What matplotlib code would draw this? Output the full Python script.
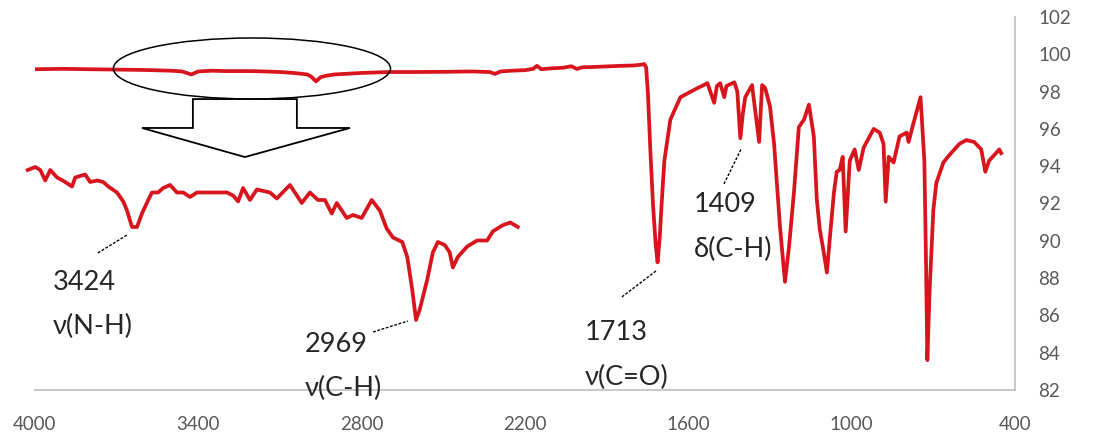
import matplotlib
matplotlib.use("Agg")
import matplotlib.pyplot as plt
from matplotlib.patches import Ellipse, Polygon

# ---------------- data ----------------
# main spectrum: wavenumber (cm-1) and transmittance (%)
main_wn = [4000, 3900, 3800, 3700, 3600, 3500, 3460, 3426, 3400, 3350, 3300, 3200,
           3100, 3050, 3000, 2985, 2968, 2950, 2930, 2900, 2800, 2700, 2600, 2500,
           2400, 2330, 2310, 2290, 2250, 2200, 2170, 2156, 2140, 2100, 2060, 2030,
           2010, 1990, 1950, 1900, 1850, 1800, 1770, 1762, 1755, 1748, 1740, 1730,
           1720, 1713, 1705, 1698, 1688, 1666, 1629, 1578, 1530, 1505, 1495, 1483,
           1468, 1460, 1431, 1420, 1409, 1400, 1391, 1366, 1340, 1329, 1318, 1300,
           1285, 1263, 1245, 1230, 1212, 1194, 1175, 1157, 1139, 1128, 1117, 1105,
           1091, 1078, 1065, 1055, 1044, 1033, 1022, 1007, 989, 974, 956, 919,
           897, 883, 875, 864, 846, 824, 798, 791, 773, 747, 733, 727,
           722, 714, 700, 689, 663, 641, 604, 579, 550, 524, 509, 495,
           476, 458, 451]
main_T = [99.20, 99.22, 99.20, 99.18, 99.16, 99.12, 99.08, 98.92, 99.08, 99.12, 99.10, 99.10,
          99.05, 99.00, 98.92, 98.80, 98.55, 98.78, 98.85, 98.92, 99.00, 99.05, 99.05, 99.06,
          99.08, 99.05, 98.95, 99.08, 99.12, 99.15, 99.22, 99.38, 99.20, 99.25, 99.28, 99.36,
          99.22, 99.30, 99.32, 99.35, 99.38, 99.40, 99.45, 99.48, 99.30, 97.80, 95.00, 92.00,
          89.80, 88.85, 90.20, 92.00, 94.30, 96.50, 97.70, 98.10, 98.45, 97.40, 98.30, 98.45,
          97.70, 98.30, 98.50, 98.00, 95.50, 96.80, 97.70, 98.35, 95.30, 98.35, 98.20, 97.20,
          95.20, 90.70, 87.80, 89.70, 92.60, 96.10, 96.50, 97.30, 95.60, 92.20, 90.60, 89.60,
          88.30, 90.50, 92.60, 93.70, 93.80, 94.50, 90.50, 94.30, 94.90, 93.80, 95.00, 96.00,
          95.80, 95.20, 92.10, 94.50, 94.20, 95.60, 95.80, 95.30, 96.30, 97.70, 94.30, 89.00,
          83.60, 87.20, 91.65, 93.10, 94.20, 94.60, 95.20, 95.40, 95.30, 94.90, 93.70, 94.30,
          94.60, 94.90, 94.70]

# magnified region (inset): wavenumber and transmittance
inset_wn = [3591, 3579, 3571, 3563, 3555, 3544, 3535, 3520, 3515, 3499, 3491, 3480,
            3470, 3462, 3448, 3438, 3432, 3424, 3416, 3408, 3398, 3392, 3382, 3374,
            3363, 3352, 3342, 3331, 3320, 3304, 3288, 3272, 3262, 3254, 3246, 3235,
            3224, 3203, 3192, 3171, 3152, 3139, 3126, 3115, 3104, 3096, 3080, 3070,
            3056, 3040, 3027, 3016, 3006, 2991, 2983, 2975, 2969, 2963, 2951, 2942,
            2934, 2923, 2915, 2910, 2902, 2887, 2871, 2855, 2846, 2831, 2818, 2806]
inset_T = [99.30, 99.32, 99.30, 99.23, 99.30, 99.25, 99.23, 99.19, 99.25, 99.27, 99.22, 99.23,
           99.22, 99.19, 99.15, 99.09, 99.03, 98.92, 98.92, 99.01, 99.10, 99.15, 99.15, 99.18,
           99.20, 99.15, 99.15, 99.12, 99.15, 99.15, 99.15, 99.15, 99.13, 99.09, 99.18, 99.10,
           99.17, 99.15, 99.11, 99.20, 99.08, 99.15, 99.10, 99.10, 99.01, 99.08, 98.98, 99.00,
           98.98, 99.10, 99.03, 98.91, 98.85, 98.82, 98.72, 98.50, 98.30, 98.37, 98.57, 98.75,
           98.82, 98.80, 98.75, 98.65, 98.72, 98.79, 98.83, 98.83, 98.89, 98.93, 98.95, 98.92]

x_ticks = [4000, 3400, 2800, 2200, 1600, 1000, 400]
y_ticks = [82, 84, 86, 88, 90, 92, 94, 96, 98, 100, 102]

# annotations: (label, band, text x, number baseline y, band baseline y, leader line)
labels = [
    ("3424", "ν(N-H)", 3934, 87.36, 85.00, (3769, 89.35, 3662, 90.31)),
    ("2969", "ν(C-H)", 3009, 84.04, 81.68, (2758, 85.11, 2630, 85.70)),
    ("1713", "ν(C=O)", 1980, 84.68, 82.27, (1844, 86.99, 1719, 88.38)),
    ("1409", "δ(C-H)", 1581, 91.54, 89.13, (1469, 93.05, 1406, 94.92)),
]

# ---------------- style ----------------
RED = "#d8141c"
GRAY_TXT = "#595959"
GRAY_AX = "#bfbfbf"
ANN_FONT = ["Lato", "DejaVu Sans"]
TICK_FONT = ["Lato", "DejaVu Sans"]

W, H = 1093, 446
fig = plt.figure(figsize=(W / 100, H / 100), dpi=100)
ax = fig.add_axes([35 / W, 1 - 390 / H, 980 / W, 373 / H])
ax.plot(main_wn, main_T, color=RED, lw=2.7, solid_joinstyle="round")
ax.set_xlim(4000, 400)
ax.set_ylim(82, 102)
ax.set_xticks(x_ticks)
ax.set_yticks(y_ticks)
ax.yaxis.tick_right()
for s in ["left", "top"]:
    ax.spines[s].set_visible(False)
for s in ["bottom", "right"]:
    ax.spines[s].set_color(GRAY_AX)
    ax.spines[s].set_linewidth(1.2)
ax.tick_params(axis="both", length=0, colors=GRAY_TXT, labelsize=13.5)
ax.tick_params(axis="x", pad=19)
ax.tick_params(axis="y", pad=17)
for lab in ax.get_xticklabels() + ax.get_yticklabels():
    lab.set_family(TICK_FONT)

# ellipse around the magnified region and block arrow
ax.add_patch(Ellipse((3203, 99.24), 1018, 3.27, fill=False, ec="black", lw=1.1, zorder=3))
ax.add_patch(Polygon([(3420, 97.60), (3038, 97.60), (3038, 96.05), (2843, 96.05),
                      (3229, 94.49), (3607, 96.05), (3420, 96.05)],
                     closed=True, fc="white", ec="black", lw=1.3, zorder=3))

# annotations
for num, band, tx, ny, by, (x0, y0, x1, y1) in labels:
    ax.text(tx, ny, num, family=ANN_FONT, fontsize=19.5, color="#262626", va="baseline", ha="left")
    ax.text(tx, by, band, family=ANN_FONT, fontsize=19.5, color="#262626", va="baseline", ha="left")
    ax.plot([x0, x1], [y0, y1], color="black", lw=1.0, ls=(0, (2, 1.2)))

# inset (magnified 3600-2800 cm-1)
ins = fig.add_axes([25 / W, 1 - 330 / H, 500 / W, 175 / H])
ins.patch.set_alpha(0)
ins.plot(inset_wn, inset_T, color=RED, lw=2.7, solid_joinstyle="round")
ins.set_xlim(3595.4, 2794.4)
ins.set_ylim(98.233, 99.40)
ins.axis("off")

fig.savefig("out.png", dpi=100)
